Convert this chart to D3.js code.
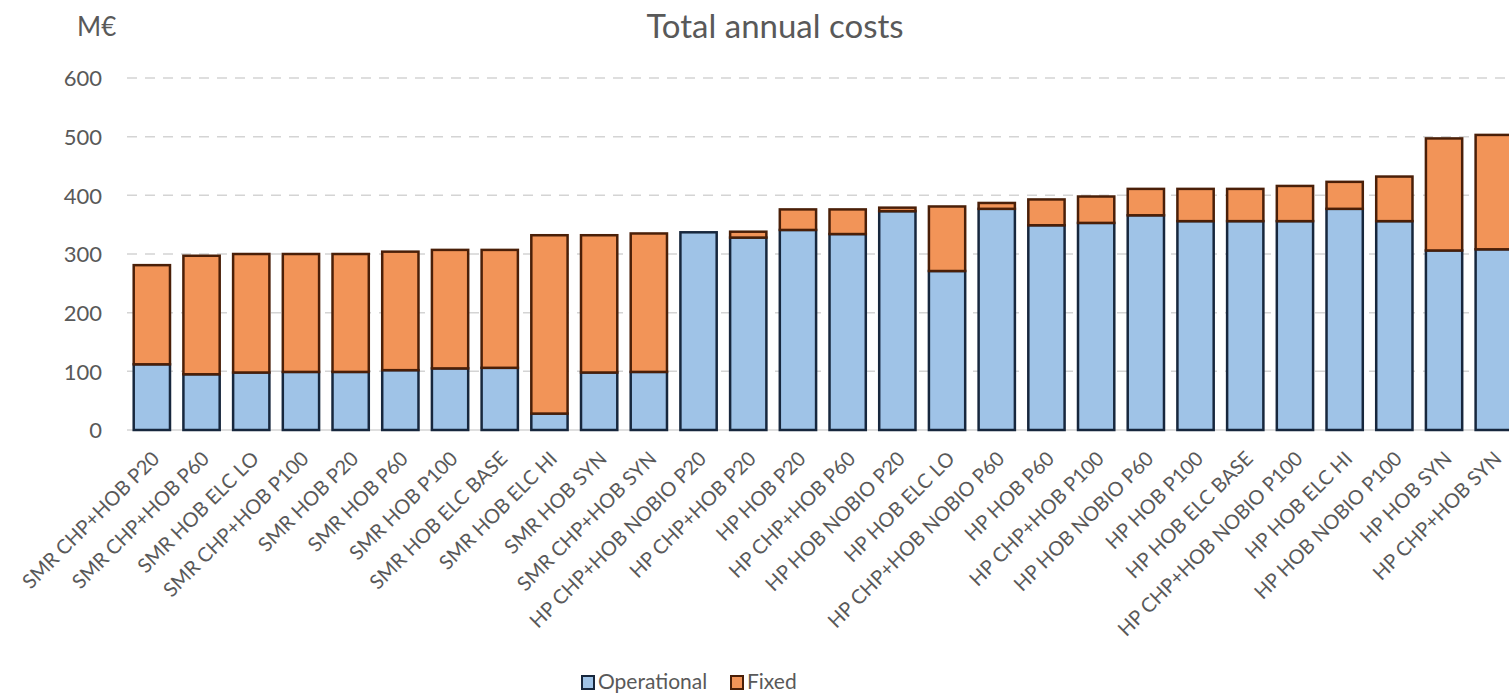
<!DOCTYPE html>
<html>
<head>
<meta charset="utf-8">
<script src="https://cdn.jsdelivr.net/npm/d3@7"></script>
<style>
  body { margin: 0; background: #fff; }
  text { font-family: Lato, "Open Sans", sans-serif; fill: #595959; }
  .axis path, .axis line { display: none; }
</style>
</head>
<body>
<div id="chart"></div>
<script>

// chart data
let categories = [
  "SMR CHP+HOB P20", "SMR CHP+HOB P60", "SMR HOB ELC LO", "SMR CHP+HOB P100",
  "SMR HOB P20", "SMR HOB P60", "SMR HOB P100", "SMR HOB ELC BASE",
  "SMR HOB ELC HI", "SMR HOB SYN", "SMR CHP+HOB SYN", "HP CHP+HOB NOBIO P20",
  "HP CHP+HOB P20", "HP HOB P20", "HP CHP+HOB P60", "HP HOB NOBIO P20",
  "HP HOB ELC LO", "HP CHP+HOB NOBIO P60", "HP HOB P60", "HP CHP+HOB P100",
  "HP HOB NOBIO P60", "HP HOB P100", "HP HOB ELC BASE", "HP CHP+HOB NOBIO P100",
  "HP HOB ELC HI", "HP HOB NOBIO P100", "HP HOB SYN", "HP CHP+HOB SYN"
];
let operational = [112, 95, 98, 99, 99, 102, 105, 106, 28, 98, 99, 337, 328, 341,
  334, 373, 271, 377, 349, 353, 366, 356, 356, 356, 377, 356, 306, 308];
let fixed = [169, 202, 202, 201, 201, 202, 202, 201, 304, 234, 236, 0, 10, 35,
  42, 6, 110, 10, 44, 45, 45, 55, 55, 60, 46, 76, 191, 195];
let seriesNames = ["Operational", "Fixed"];
let yTicks = [0, 100, 200, 300, 400, 500, 600];
let title = "Total annual costs";
let unit = "M€";

class StackedBarChart {

  constructor() {
    this.draw();
  }

  draw() {
    let width = 1509;
    let height = 696;
    let left = 127;
    let bottom = 430;
    let top = 78;

    let rows = categories.map((c, i) => ({ name: c, Operational: operational[i], Fixed: fixed[i] }));
    let stacked = d3.stack().keys(seriesNames)(rows);

    let fills = { Operational: "#9fc3e7", Fixed: "#f29458" };
    let strokes = { Operational: "#17273d", Fixed: "#4a1f08" };

    let xScale = d3.scaleBand()
      .domain(categories)
      .range([left, left + 49.7 * categories.length])
      .paddingInner(0.27)
      .paddingOuter(0.135);

    let yScale = d3.scaleLinear()
      .domain([0, 600])
      .range([bottom, top]);

    let svg = d3.select("#chart").append("svg")
      .attr("width", width)
      .attr("height", height)
    ;

    // gridlines
    svg.append("g").selectAll("line")
      .data(yTicks)
      .enter()
      .append("line")
      .attr("x1", left)
      .attr("x2", width)
      .attr("y1", d => yScale(d))
      .attr("y2", d => yScale(d))
      .style("stroke", "#d4d4d4")
      .style("stroke-width", 1.5)
      .style("stroke-dasharray", d => d == 0 ? null : "10,8")
    ;

    // bars
    svg.append("g").selectAll("g")
      .data(stacked)
      .enter()
      .append("g")
      .each(function (s) {
        d3.select(this).selectAll("rect")
          .data(s.filter(d => d[1] - d[0] > 0))
          .enter()
          .append("rect")
          .attr("x", d => xScale(d.data.name))
          .attr("y", d => yScale(d[1]))
          .attr("width", xScale.bandwidth())
          .attr("height", d => yScale(d[0]) - yScale(d[1]))
          .style("fill", fills[s.key])
          .style("stroke", strokes[s.key])
          .style("stroke-width", 2.5)
        ;
      })
    ;

    // y axis labels
    let yAxis = d3.axisLeft(yScale).tickValues(yTicks).tickSize(0).tickPadding(0);
    svg.append("g")
      .attr("class", "axis")
      .attr("transform", `translate(102,0)`)
      .call(yAxis)
      .selectAll("text")
      .style("font-size", "22px")
      .style("fill", "#595959")
      .attr("dy", "0.36em")
    ;

    // x axis labels, rotated 45 degrees
    let xAxis = d3.axisBottom(xScale).tickSize(0).tickPadding(0);
    svg.append("g")
      .attr("class", "axis")
      .attr("transform", `translate(4,${bottom + 25})`)
      .call(xAxis)
      .selectAll("text")
      .style("font-size", "20px")
      .style("fill", "#595959")
      .style("text-anchor", "end")
      .attr("y", 0)
      .attr("dy", "0.35em")
      .attr("transform", "rotate(-45)")
    ;

    svg.append("text")
      .attr("x", 775)
      .attr("y", 38)
      .attr("text-anchor", "middle")
      .style("font-size", "33px")
      .text(title);

    svg.append("text")
      .attr("x", 77)
      .attr("y", 36)
      .style("font-size", "26px")
      .text(unit);

    // legend
    let legend = svg.append("g").selectAll("g")
      .data(seriesNames)
      .enter()
      .append("g")
      .attr("transform", (d, i) => `translate(${i == 0 ? 582 : 731},676)`)
    ;
    legend.append("rect")
      .attr("width", 12)
      .attr("height", 13)
      .style("fill", d => fills[d])
      .style("stroke", d => strokes[d])
      .style("stroke-width", 2);
    legend.append("text")
      .attr("x", 16)
      .attr("y", 13)
      .style("font-size", "21px")
      .text(d => d);
  }
}

new StackedBarChart();
</script>
</body>
</html>
